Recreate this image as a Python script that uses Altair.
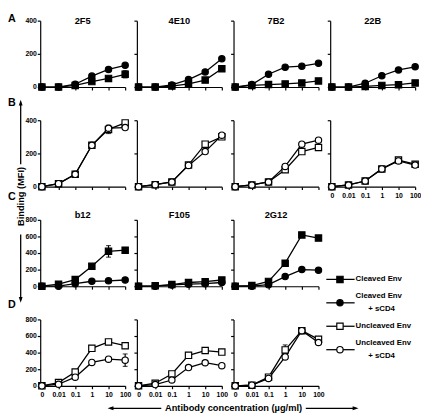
import altair as alt
import pandas as pd

# ---------------- data ----------------
x_labels = ["0", "0.01", "0.1", "1", "10", "100"]
series = ["Cleaved Env", "Cleaved Env + sCD4", "Uncleaved Env", "Uncleaved Env + sCD4"]
series_shapes = ["square", "circle", "square", "circle"]
series_fills = ["black", "black", "white", "white"]

row_letters = ["A", "B", "C", "D"]
row_antibodies = [["2F5", "4E10", "7B2", "22B"], ["2F5", "4E10", "7B2", "22B"],
                  ["b12", "F105", "2G12"], ["b12", "F105", "2G12"]]
row_titles = [["2F5", "4E10", "7B2", "22B"], ["", "", "", ""],
              ["b12", "F105", "2G12"], ["", "", ""]]
row_series = [[series[0], series[1]], [series[2], series[3]],
              [series[0], series[1]], [series[2], series[3]]]
row_ymax = [400, 400, 800, 800]
row_yticks = [[0, 200, 400], [0, 200, 400],
              [0, 200, 400, 600, 800], [0, 200, 400, 600, 800]]

# Row A: cleaved Env / cleaved Env + sCD4
A_2F5_cl = [0, 0, 10, 33, 52, 77]
A_2F5_cs = [0, 0, 17, 66, 106, 131]
A_4E10_cl = [0, 0, 6, 19, 42, 110]
A_4E10_cs = [0, 0, 13, 45, 91, 170]
A_7B2_cl = [0, 10, 15, 19, 25, 37]
A_7B2_cs = [0, 15, 77, 120, 126, 143]
A_22B_cl = [0, 0, 4, 10, 14, 25]
A_22B_cs = [0, 0, 23, 68, 103, 122]
# Row B: uncleaved Env / uncleaved Env + sCD4
B_2F5_un = [0, 18, 74, 249, 345, 384]
B_2F5_us = [0, 18, 74, 249, 352, 356]
B_4E10_un = [0, 12, 28, 131, 256, 300]
B_4E10_us = [0, 12, 28, 128, 211, 310]
B_7B2_un = [0, 10, 28, 102, 211, 236]
B_7B2_us = [0, 10, 28, 122, 256, 280]
B_22B_un = [0, 10, 34, 107, 160, 135]
B_22B_us = [0, 10, 34, 107, 155, 130]
# Row C
C_b12_cl = [0, 25, 80, 240, 420, 435]
C_b12_cs = [0, 0, 30, 60, 65, 75]
C_F105_cl = [0, 5, 20, 45, 55, 75]
C_F105_cs = [0, 0, 15, 25, 30, 45]
C_2G12_cl = [0, 8, 58, 278, 618, 580]
C_2G12_cs = [0, 0, 19, 116, 201, 193]
# Row D
D_b12_un = [0, 39, 166, 452, 529, 483]
D_b12_us = [0, 19, 104, 282, 321, 309]
D_F105_un = [0, 31, 143, 367, 425, 406]
D_F105_us = [0, 15, 70, 220, 278, 243]
D_2G12_un = [0, 8, 104, 433, 665, 560]
D_2G12_us = [0, 8, 89, 348, 665, 522]

values = {
    ("A", "2F5"): [A_2F5_cl, A_2F5_cs], ("A", "4E10"): [A_4E10_cl, A_4E10_cs],
    ("A", "7B2"): [A_7B2_cl, A_7B2_cs], ("A", "22B"): [A_22B_cl, A_22B_cs],
    ("B", "2F5"): [B_2F5_un, B_2F5_us], ("B", "4E10"): [B_4E10_un, B_4E10_us],
    ("B", "7B2"): [B_7B2_un, B_7B2_us], ("B", "22B"): [B_22B_un, B_22B_us],
    ("C", "b12"): [C_b12_cl, C_b12_cs], ("C", "F105"): [C_F105_cl, C_F105_cs],
    ("C", "2G12"): [C_2G12_cl, C_2G12_cs],
    ("D", "b12"): [D_b12_un, D_b12_us], ("D", "F105"): [D_F105_un, D_F105_us],
    ("D", "2G12"): [D_2G12_un, D_2G12_us],
}

# error bars: (row, antibody, series, x index, half-width)
errors = [("A", "2F5", "Cleaved Env", 5, 22),
          ("B", "2F5", "Uncleaved Env", 4, 25),
          ("C", "b12", "Cleaved Env", 4, 70),
          ("D", "b12", "Uncleaved Env + sCD4", 5, 75),
          ("D", "2G12", "Uncleaved Env", 3, 60)]

legend_line1 = ["Cleaved Env", "Cleaved Env", "Uncleaved Env", "Uncleaved Env"]
legend_line2 = ["", "+ sCD4", "", "+ sCD4"]

y_title = "Binding (MFI)"
x_title = "Antibody concentration (µg/ml)"

rows = []
for r, letter in enumerate(row_letters):
    for ab in row_antibodies[r]:
        for s, vals in zip(row_series[r], values[(letter, ab)]):
            for i, v in enumerate(vals):
                err = 0
                for e in errors:
                    if e[0] == letter and e[1] == ab and e[2] == s and e[3] == i:
                        err = e[4]
                rows.append(dict(row=letter, antibody=ab, series=s, xi=i, value=v, err=err))
df = pd.DataFrame(rows)

# ---------------- styling ----------------
W, H = 87, 68
FONT = "Liberation Sans"
label_expr = "[" + ",".join("'%s'" % s for s in x_labels) + "][datum.value]"
title_y = {"A": 3, "C": -2}
letter_y = {"A": -8, "B": -18, "C": -23, "D": -15}

shape_enc = alt.Shape("series:N", scale=alt.Scale(domain=series, range=series_shapes), legend=None)
fill_enc = alt.Fill("series:N", scale=alt.Scale(domain=series, range=series_fills), legend=None)

ARROW_UP = "M0,-1L0.65,1L-0.65,1Z"
ARROW_DOWN = "M0,1L0.65,-1L-0.65,-1Z"
ARROW_LEFT = "M-1,0L1,-0.65L1,0.65Z"
ARROW_RIGHT = "M1,0L-1,-0.65L-1,0.65Z"


def one(t=""):
    return pd.DataFrame({"t": [t]})


def text_layer(t, x, y, size=9.5, align="center", baseline="middle", angle=0):
    kw = dict(font=FONT, fontSize=size, fontWeight="bold", color="black",
              align=align, baseline=baseline)
    if angle:
        kw["angle"] = angle
    return alt.Chart(one(t)).mark_text(**kw).encode(
        x=alt.value(x), y=alt.value(y), text="t:N")


def vrule(x, y1, y2):
    return alt.Chart(one()).mark_rule(color="black", strokeWidth=1.3).encode(
        x=alt.value(x), y=alt.value(y1), y2=alt.value(y2))


def hrule(x1, x2, y):
    return alt.Chart(one()).mark_rule(color="black", strokeWidth=1.3).encode(
        x=alt.value(x1), x2=alt.value(x2), y=alt.value(y))


def head(shape, x, y):
    return alt.Chart(one()).mark_point(shape=shape, filled=True, color="black",
                                       size=36, opacity=1, strokeWidth=0).encode(
        x=alt.value(x), y=alt.value(y))


def make_panel(r, c):
    letter = row_letters[r]
    ab = row_antibodies[r][c]
    title = row_titles[r][c]
    sub = df[(df.row == letter) & (df.antibody == ab)]
    show_x = (r == 3) or (r == 1 and c == 3)
    first = c == 0
    xscale = alt.Scale(domain=[-0.1, 5], nice=False, zero=False)
    yscale = alt.Scale(domain=[0, row_ymax[r]], nice=False)
    xaxis = alt.Axis(values=list(range(6)), labelExpr=label_expr, labels=show_x,
                     title=None, labelFlush=False, labelOverlap=False, labelPadding=2)
    yaxis = alt.Axis(values=row_yticks[r], labels=first, title=None, labelPadding=1,
                     labelOverlap=False)

    def X(f):
        return alt.X(f, scale=xscale, axis=xaxis)

    def Y(f):
        return alt.Y(f, scale=yscale, axis=yaxis)

    base = alt.Chart(sub)
    layers = [base.mark_line(color="black", strokeWidth=1.3).encode(
        x=X("xi:Q"), y=Y("value:Q"), detail="series:N")]
    errs = sub[sub.err > 0]
    if len(errs):
        eb = alt.Chart(errs).transform_calculate(
            lo="datum.value - datum.err", hi="datum.value + datum.err")
        layers.append(eb.mark_rule(color="black", strokeWidth=1.2).encode(
            x=X("xi:Q"), y=Y("lo:Q"), y2="hi:Q"))
        for f in ["lo:Q", "hi:Q"]:
            layers.append(eb.mark_tick(color="black", thickness=1.2, size=5,
                                       orient="horizontal").encode(x=X("xi:Q"), y=Y(f)))
    layers.append(base.mark_point(filled=True, stroke="black", strokeWidth=1.2,
                                  size=42, opacity=1).encode(
        x=X("xi:Q"), y=Y("value:Q"), shape=shape_enc, fill=fill_enc))
    if title:
        layers.append(text_layer(title, W / 2, title_y[letter], size=9.5,
                                 baseline="alphabetic"))
    if first:
        layers.append(text_layer(letter, -33, letter_y[letter], size=11, align="left",
                                 baseline="top" if letter == "A" else "middle"))
    if letter == "C" and first:
        layers += [vrule(-20, -120, -57), head(ARROW_UP, -20, -120),
                   text_layer(y_title, -20, -24, size=9.5, angle=270),
                   vrule(-20, 15, 82), head(ARROW_DOWN, -20, 82)]
    if letter == "D" and first:
        layers += [hrule(72, 124, 91), head(ARROW_LEFT, 72, 91),
                   text_layer(x_title, 198, 91, size=9.5),
                   hrule(272, 323, 91), head(ARROW_RIGHT, 323, 91)]
    return alt.layer(*layers).properties(width=W, height=H)


def make_legend():
    ld = pd.DataFrame({"series": series, "l1": legend_line1, "l2": legend_line2})
    yenc = alt.Y("series:N", scale=alt.Scale(type="point", domain=series,
                                             range=[61, 133], padding=0), axis=None)
    base = alt.Chart(ld)
    tkw = dict(font=FONT, fontSize=8, fontWeight="bold", color="black",
               align="left", baseline="middle")
    layers = [
        base.mark_rule(color="black", strokeWidth=1.3).encode(
            x=alt.value(-4), x2=alt.value(25), y=yenc),
        base.mark_point(filled=True, stroke="black", strokeWidth=1.2, size=42,
                        opacity=1).encode(x=alt.value(10), y=yenc,
                                          shape=shape_enc, fill=fill_enc),
        base.transform_filter("datum.l2 == ''").mark_text(**tkw).encode(
            x=alt.value(26), y=yenc, text="l1:N"),
        base.transform_filter("datum.l2 != ''").mark_text(dy=-7, **tkw).encode(
            x=alt.value(26), y=yenc, text="l1:N"),
        base.transform_filter("datum.l2 != ''").mark_text(dy=6, **tkw).encode(
            x=alt.value(39), y=yenc, text="l2:N"),
    ]
    return alt.layer(*layers).properties(width=W, height=H)


panels = []
for r in range(4):
    for c in range(len(row_antibodies[r])):
        panels.append(make_panel(r, c))
    if r == 2:
        panels.append(make_legend())

chart = alt.concat(*panels, columns=4, spacing={"row": 34, "column": 12},
                   bounds="flush", padding=0).configure_view(
    stroke=None).configure_axis(
    domainColor="black", domainWidth=1.2, tickColor="black", tickWidth=1.2,
    tickSize=3, labelColor="black", labelFont=FONT, labelFontWeight="bold",
    labelFontSize=7, grid=False)

chart.save("out.html", embed_options={"renderer": "svg", "actions": False})
